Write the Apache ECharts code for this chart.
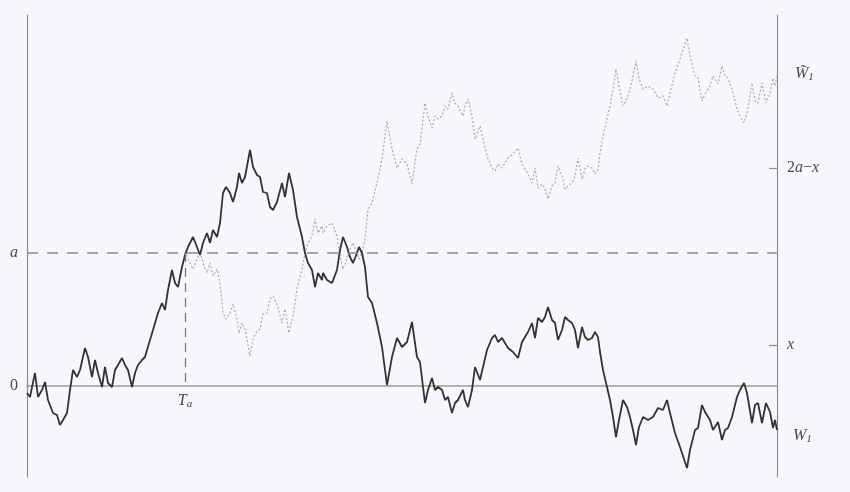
<!DOCTYPE html>
<html>
<head>
<meta charset="utf-8">
<script src="https://cdn.jsdelivr.net/npm/echarts@6/dist/echarts.min.js"></script>
<style>
html,body{margin:0;padding:0;background:#f6f7fb;}
#c{width:850px;height:492px;}
</style>
</head>
<body>
<div id="c"></div>
<script>
// Time axis (arbitrary units 0..750), path W and its reflection after T_a
const tW = [0,3,8,11,15,18,21,26,30,33,36,40,43,46,50,53,58,61,65,68,71,75,78,81,85,88,91,95,98,101,105,108,111,115,118,120,126,131,135,138,141,145,148,151,155,158,161,166,170,173,176,180,183,186,190,193,196,199,203,206,210,212,215,218,223,226,230,233,236,240,243,246,250,255,258,262,266,270,275,278,281,285,288,291,295,296,300,305,310,313,316,320,323,326,330,332,335,338,341,345,350,355,360,365,370,375,380,385,390,393,398,401,405,408,411,415,418,421,425,428,431,436,438,441,445,448,453,456,460,465,468,471,475,478,481,486,491,495,498,501,505,508,511,515,518,521,525,528,531,535,538,541,545,548,551,555,558,561,565,568,571,573,576,580,583,586,589,592,596,600,603,606,609,612,616,621,626,631,636,640,643,648,653,660,663,668,671,675,678,683,686,691,695,698,701,705,710,713,717,720,725,728,731,735,739,743,746,748,750];
const W = [-7,-11,13,-11,-4,4,-14,-27,-29,-39,-34,-27,-4,16,9,16,38,29,9,26,13,-1,19,3,-1,16,21,28,21,16,-1,13,21,26,29,36,56,73,83,76,96,116,103,99,119,131,139,149,139,131,143,153,143,156,149,163,193,199,193,184,199,213,203,209,236,219,211,209,194,193,179,176,184,203,189,213,196,169,149,133,123,116,99,113,106,113,106,103,116,136,149,139,129,123,133,139,133,119,89,83,63,39,1,29,48,39,44,64,29,24,-17,-4,8,-4,-1,-4,-14,-11,-27,-17,-14,-4,-14,-21,-4,19,6,19,36,48,51,44,48,43,38,34,28,44,49,54,63,48,68,64,69,79,66,63,46,56,69,66,63,56,38,59,49,46,48,54,49,34,16,-1,-14,-31,-51,-34,-14,-21,-31,-44,-59,-41,-31,-34,-31,-22,-24,-14,-27,-47,-61,-82,-64,-44,-42,-19,-26,-34,-44,-36,-54,-44,-42,-31,-11,-4,3,-7,-37,-19,-17,-37,-17,-26,-42,-34,-44];
const tR = [158,161,166,170,173,176,180,183,186,190,193,196,199,203,206,210,212,215,218,223,226,230,233,236,240,243,246,250,255,258,262,266,270,275,278,281,285,288,291,295,296,300,305,310,313,316,320,323,326,330,332,335,338,341,345,350,355,360,365,370,375,380,385,390,393,398,401,405,408,411,415,418,421,425,428,431,436,438,441,445,448,453,456,460,465,468,471,475,478,481,486,491,495,498,501,505,508,511,515,518,521,525,528,531,535,538,541,545,548,551,555,558,561,565,568,571,573,576,580,583,586,589,592,596,600,603,606,609,612,616,621,626,631,636,640,643,648,653,660,663,668,671,675,678,683,686,691,695,698,701,705,710,713,717,720,725,728,731,735,739,743,746,748,750];
const R = [135,127,117,127,135,123,113,123,110,117,103,73,67,73,82,67,53,63,57,30,47,55,57,72,73,87,90,82,63,77,53,70,97,117,133,143,150,167,153,160,153,160,163,150,130,117,127,137,143,133,127,133,147,177,183,203,227,265,237,218,227,222,202,237,242,283,270,258,270,267,270,280,277,293,283,280,270,280,287,270,247,260,247,230,218,215,222,218,223,228,232,238,222,217,212,203,218,198,202,197,187,200,203,220,210,197,200,203,210,228,207,217,220,218,212,217,232,250,267,280,297,317,300,280,287,297,310,325,307,297,300,297,288,290,280,293,313,327,348,330,310,308,285,292,300,310,302,320,310,308,297,277,270,263,273,303,285,283,303,283,292,308,300,310];
const levelA = 133;
const levelX = 41;
const level2aMinusX = 218;
const tA = 158;
const yMin = -91, yMax = 371;

const serif = '"Liberation Serif","DejaVu Serif",serif';
const txt = '#4a4a4a';
const richLbl = {
  i: {fontFamily: serif, fontStyle: 'italic', fontSize: 16, color: txt},
  r: {fontFamily: serif, fontSize: 16, color: txt},
  s: {fontFamily: serif, fontStyle: 'italic', fontSize: 11, color: txt, padding: [7,0,0,0]}
};

const chart = echarts.init(document.getElementById('c'), null, {renderer: 'canvas'});
chart.setOption({
  animation: false,
  backgroundColor: '#f6f7fb',
  grid: {left: 27, right: 73, top: 15, bottom: 15, containLabel: false, outerBoundsMode: 'none'},
  xAxis: {
    type: 'value', min: 0, max: 750,
    axisLine: {show: true, onZero: true, lineStyle: {color: '#9a9a9a', width: 1.5}},
    axisTick: {show: false},
    splitLine: {show: false},
    axisLabel: {show: false}
  },
  yAxis: [{
    type: 'value', min: yMin, max: yMax, position: 'left',
    axisLine: {show: true, onZero: false, lineStyle: {color: '#8f8f8f', width: 1.2}},
    axisTick: {show: false},
    splitLine: {show: false},
    axisLabel: {
      customValues: [0, levelA], margin: 9,
      formatter: v => v === 0 ? '{r|0}' : '{i|a}',
      rich: richLbl
    }
  }, {
    type: 'value', min: yMin, max: yMax, position: 'right',
    axisLine: {show: true, onZero: false, lineStyle: {color: '#8f8f8f', width: 1.2}},
    axisTick: {show: true, inside: true, length: 8, customValues: [levelX, level2aMinusX], lineStyle: {color: '#8f8f8f', width: 1.2}},
    splitLine: {show: false},
    axisLabel: {
      customValues: [levelX, level2aMinusX], margin: 10,
      formatter: v => v === levelX ? '{i|x}' : '{r|2}{i|a}{r|\u2212}{i|x}',
      rich: richLbl
    }
  }],
  series: [{
    type: 'line',
    data: tR.map((t, i) => [t, R[i]]),
    showSymbol: false, symbol: 'none',
    lineStyle: {color: '#a9a9b2', width: 1.2, type: [2, 2]},
    endLabel: {
      show: true, offset: [10, -2],
      formatter: () => '{i|W\u0303}{s|1}',
      rich: richLbl
    },
    silent: true, z: 2
  }, {
    type: 'line',
    data: tW.map((t, i) => [t, W[i]]),
    showSymbol: false, symbol: 'none',
    lineStyle: {color: '#333333', width: 1.8},
    endLabel: {
      show: true, offset: [8, 6],
      formatter: () => '{i|W}{s|1}',
      rich: richLbl
    },
    markLine: {
      silent: true, symbol: 'none',
      data: [
        {yAxis: levelA, label: {show: false}, lineStyle: {color: '#8a8a8a', width: 1.5, type: [11, 9]}},
        [{coord: [tA, levelA]}, {coord: [tA, 0],
          lineStyle: {color: '#7a7a7a', width: 1.3, type: [9, 6]},
          label: {show: true, position: 'end', distance: 6, formatter: () => '{i|T}{s|a}', rich: richLbl}}]
      ]
    },
    silent: true, z: 3
  }]
});
</script>
</body>
</html>
